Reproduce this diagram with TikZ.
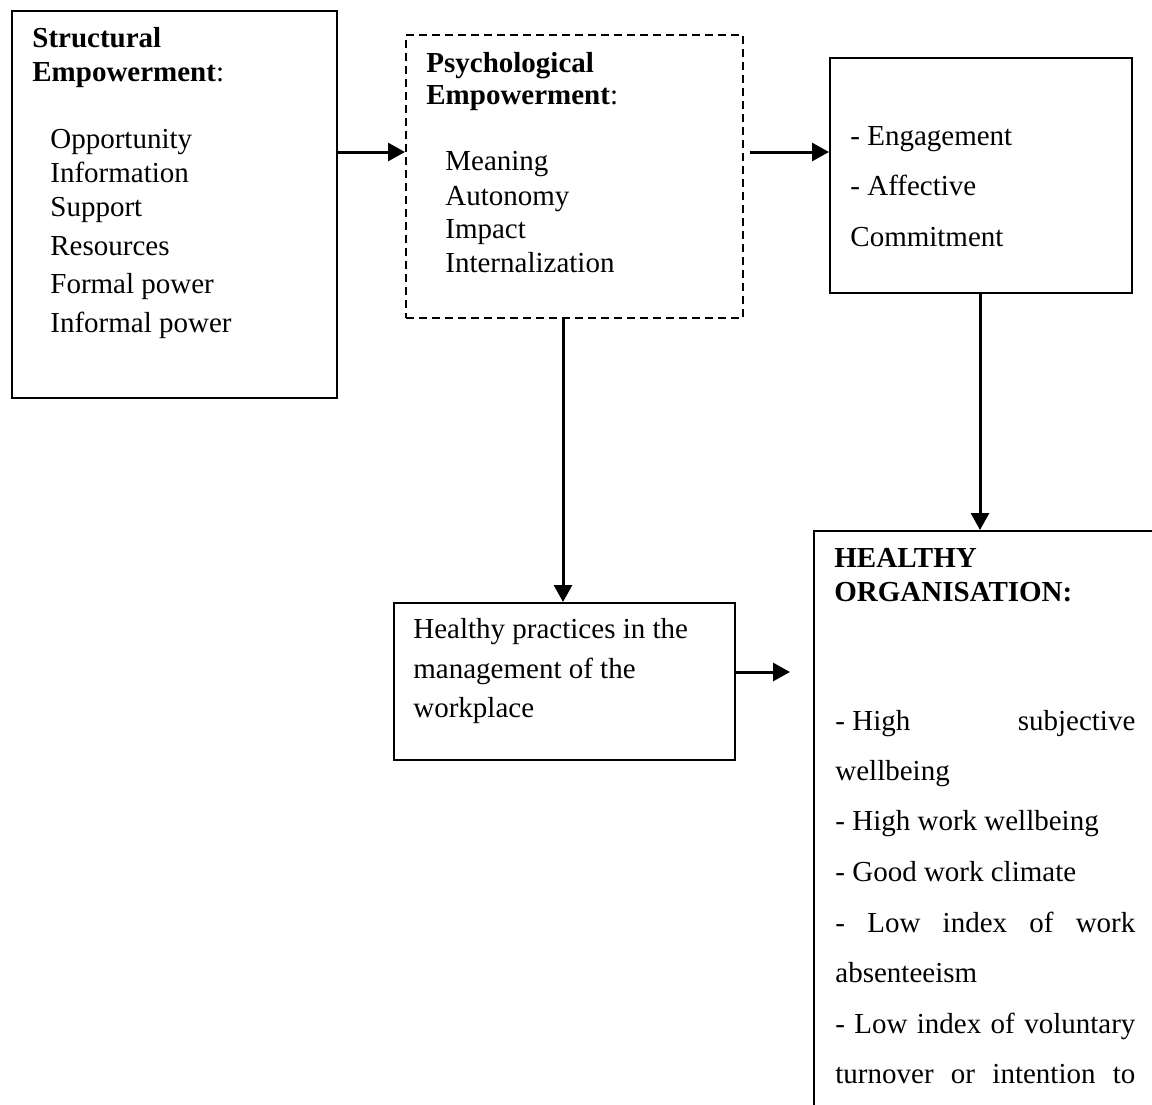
\documentclass[tikz,border=0pt]{standalone}
\usepackage{fontspec}
\setmainfont{Liberation Serif}
\usetikzlibrary{arrows.meta}

\begin{document}
\begin{tikzpicture}[x=0.5pt, y=-0.5pt,
  box/.style={draw=black, line width=1.1pt, rectangle, inner sep=0pt, anchor=north west},
  dashbox/.style={box, dash pattern=on 4pt off 2.5pt},
  txt/.style={anchor=base west, inner sep=0pt, font=\fontsize{14.5}{17}\selectfont},
  hd/.style={txt, font=\fontsize{14.5}{17}\selectfont\bfseries},
  arr/.style={line width=1.5pt, -{Triangle[length=8.5pt,width=9pt]}}]

\useasboundingbox (0,0) rectangle (1152,1104);
\clip (0,0) rectangle (1152,1104);
\fill[white] (0,0) rectangle (1152,1104);

% boxes
\node[box, minimum width=162.5pt, minimum height=193.5pt] (b1) at (11,10) {};
\node[dashbox, minimum width=168.5pt, minimum height=141.5pt] (b2) at (405,34) {};
\node[box, minimum width=151pt, minimum height=117.5pt] (b3) at (829,57) {};
\node[box, minimum width=170.5pt, minimum height=78.5pt] (b4) at (393,602) {};
\node[box, minimum width=193.5pt, minimum height=310pt] (b5) at (813,530) {};

% structural empowerment
\node[hd] (t1a) at (32,47) {Structural};
\node[hd] (t1b) at (32,81) {Empowerment\normalfont:};
\node[txt] (t1c) at (50,148) {Opportunity};
\node[txt] (t1d) at (50,182) {Information};
\node[txt] (t1e) at (50,216) {Support};
\node[txt] (t1f) at (50,255) {Resources};
\node[txt] (t1g) at (50,293) {Formal power};
\node[txt] (t1h) at (50,332) {Informal power};

% psychological empowerment
\node[hd] (t2a) at (426,72) {Psychological};
\node[hd] (t2b) at (426,104) {Empowerment\normalfont:};
\node[txt] (t2c) at (445,170) {Meaning};
\node[txt] (t2d) at (445,205) {Autonomy};
\node[txt] (t2e) at (445,238) {Impact};
\node[txt] (t2f) at (445,272) {Internalization};

% outcomes
\node[txt] (t3a) at (850,145) {- Engagement};
\node[txt] (t3b) at (850,195) {- Affective};
\node[txt] (t3c) at (850,246) {Commitment};

% healthy practices
\node[txt] (t4a) at (413,638) {Healthy practices in the};
\node[txt] (t4b) at (413,678) {management of the};
\node[txt] (t4c) at (413,717) {workplace};

% healthy organisation
\node[hd] (t5a) at (834,567) {HEALTHY};
\node[hd] (t5b) at (834,601) {ORGANISATION:};
\node[txt] (t5c) at (835,730) {\makebox[150pt][s]{- High \hfill subjective}};
\node[txt] (t5d) at (835,780) {wellbeing};
\node[txt] (t5e) at (835,830) {- High work wellbeing};
\node[txt] (t5f) at (835,881) {- Good work climate};
\node[txt] (t5g) at (835,932) {\makebox[150pt][s]{- Low index of work}};
\node[txt] (t5h) at (835,982) {absenteeism};
\node[txt] (t5i) at (835,1033) {\makebox[150pt][s]{- Low index of voluntary}};
\node[txt] (t5j) at (835,1083) {\makebox[150pt][s]{turnover or intention to}};

% connectors
\coordinate (h4) at (790,672);
\draw[arr] (b1.east |- 0,152) -- (b2.west |- 0,152);
\draw[arr] ([xshift=3pt]b2.east |- 0,152) -- (b3.west |- 0,152);
\draw[arr] (b2.south -| 563,0) -- (b4.north -| 563,0);
\draw[arr] (b3.south -| 980,0) -- (b5.north -| 980,0);
\draw[arr] (b4.east |- h4) -- (h4);
\end{tikzpicture}
\end{document}
